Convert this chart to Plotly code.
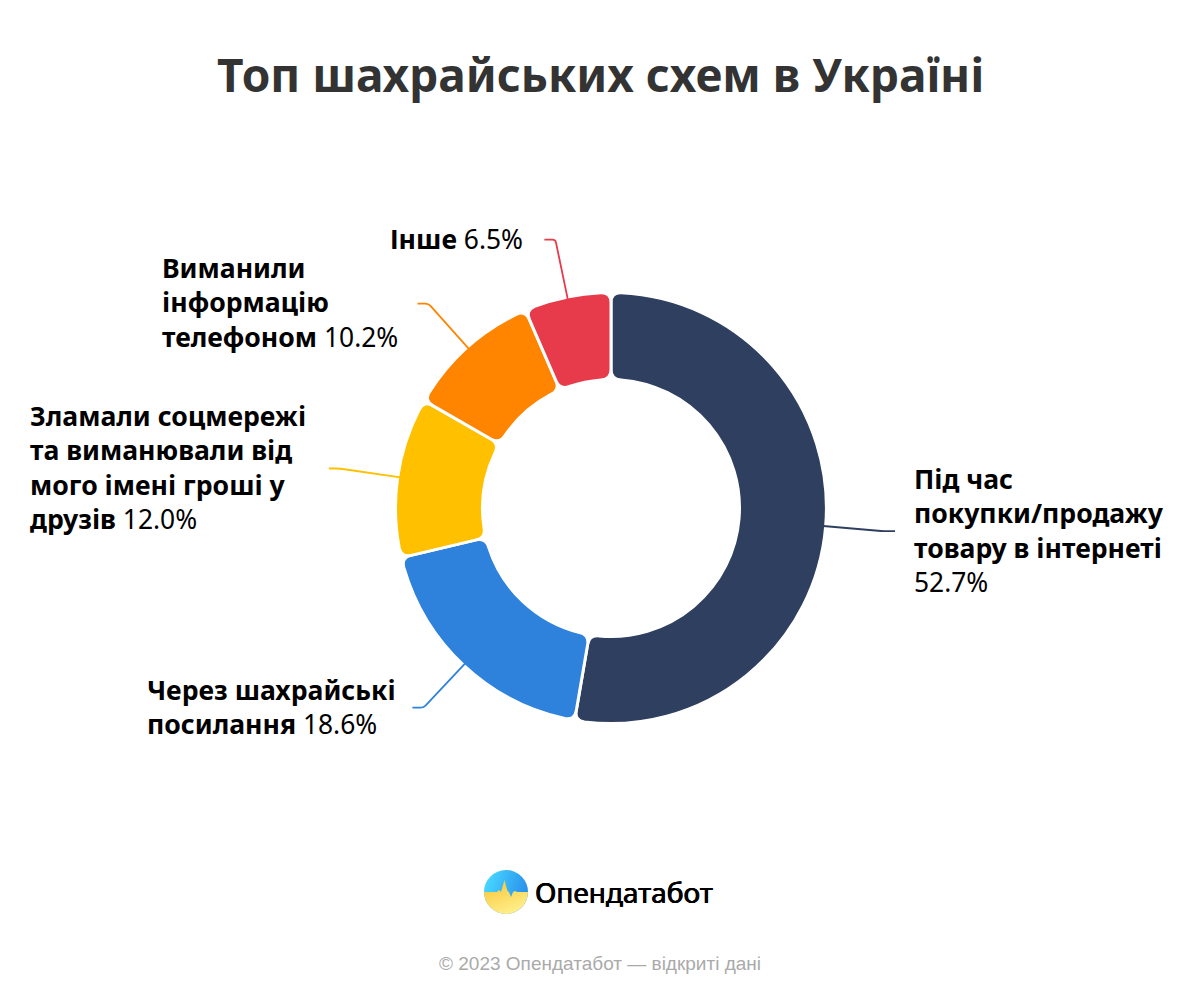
import base64
import numpy as np
import plotly.graph_objects as go

# data
labels = ["Під час<br>покупки/продажу<br>товару в інтернеті",
          "Через шахрайські<br>посилання",
          "Зламали соцмережі<br>та виманювали від<br>мого імені гроші у<br>друзів",
          "Виманили<br>інформацію<br>телефоном",
          "Інше"]
values = [52.7, 18.6, 12.0, 10.2, 6.5]
value_breaks = ["<br>", " ", " ", " ", " "]
colors = ["#2F3F60", "#2E82DC", "#FFC000", "#FF8500", "#E73A4A"]
label_left = [914, 147, 30, 162, 390]

title = "Топ шахрайських схем в Україні"
brand = "Опендатабот"
footer = "© 2023 Опендатабот — відкриті дані"

# donut geometry in page pixels
cx, cy, r_out, r_in = 611, 508, 215.5, 128.5
W, H = 1200, 1000
font = "Noto Sans"

fig = go.Figure()

fig.add_trace(go.Pie(
    values=values,
    sort=False,
    direction="clockwise",
    rotation=0,
    hole=r_in / r_out,
    textinfo="none",
    hoverinfo="skip",
    showlegend=False,
    marker=dict(colors=colors, line=dict(color="white", width=3)),
    domain=dict(x=[(cx - r_out) / W, (cx + r_out) / W],
                y=[1 - (cy + r_out) / H, 1 - (cy - r_out) / H]),
))

# empty trace so the hidden pixel axes exist for labels and leader lines
fig.add_trace(go.Scatter(x=[0, W], y=[0, H], mode="markers", marker=dict(opacity=0),
                         hoverinfo="skip", showlegend=False))

# leader lines: radial run from the slice middle, then a short flat end
mids = (np.cumsum(values) - np.array(values) / 2) / np.sum(values) * 2 * np.pi
for i, a in enumerate(mids):
    x0, y0 = cx + 213 * np.sin(a), cy - 213 * np.cos(a)
    x1, y1 = cx + 274 * np.sin(a), cy - 274 * np.cos(a)
    x2 = x1 + (11 if np.sin(a) > 0 else -11)
    # start of the corner curve, a couple of px before the elbow
    xc, yc = cx + 271 * np.sin(a), cy - 271 * np.cos(a)
    xe = x1 + (3 if np.sin(a) > 0 else -3)
    fig.add_shape(type="path", xref="x", yref="y", layer="above",
                  path=f"M {x0:.1f} {y0:.1f} L {xc:.1f} {yc:.1f} Q {x1:.1f} {y1:.1f} {xe:.1f} {y1:.1f} L {x2:.1f} {y1:.1f}",
                  line=dict(color=colors[i], width=1.8))
    bold = f'<span style="font-size:26.6px"><b>{labels[i].replace("<br>", "</b></span><br><span style=\"font-size:26.6px\"><b>")}</b></span>'
    fig.add_annotation(x=label_left[i] - 2, y=y1 - 1, xanchor="left", yanchor="middle", align="left",
                       showarrow=False,
                       text=f"{bold}{value_breaks[i]}{values[i]:.1f}%",
                       font=dict(family=font, size=26.4, color="#000000"))

fig.add_annotation(x=600, y=74, text=f"<b>{title}</b>", showarrow=False,
                   font=dict(family=font, size=46, color="#333333"))
fig.add_annotation(x=533, y=892, xanchor="left", text=brand, showarrow=False,
                   font=dict(family=font, size=28, color="#000000",
                             shadow="0.4px 0 0 #000, -0.4px 0 0 #000"))
fig.add_annotation(x=600, y=963, text=footer, showarrow=False,
                   font=dict(family="Liberation Sans", size=19, color="#AAAAAA"))

logo = """<svg xmlns="http://www.w3.org/2000/svg" viewBox="0 0 88 88">
<defs>
<linearGradient id="b" x1="0" y1="0" x2="1" y2="0.3"><stop offset="0.15" stop-color="#46D4FF"/><stop offset="1" stop-color="#2A92EC"/></linearGradient>
<linearGradient id="y" x1="0" y1="0" x2="0.5" y2="1"><stop offset="0" stop-color="#F6C233"/><stop offset="1" stop-color="#FFEE88"/></linearGradient>
<clipPath id="c"><circle cx="44" cy="44" r="44"/></clipPath>
</defs>
<g clip-path="url(#c)">
<rect width="88" height="88" fill="url(#b)"/>
<path d="M0 44 L26 44 L30 40 L34 44 L38 30 L41 20 L44 32 L47 42 L50 44 L54 54 L58 44 L62 42 L66 44 L88 44 L88 88 L0 88 Z" fill="url(#y)"/>
</g></svg>"""
logo_src = "data:image/svg+xml;base64," + base64.b64encode(logo.encode()).decode()
fig.add_layout_image(source=logo_src, xref="x", yref="y", x=484, y=870, sizex=44, sizey=44,
                     xanchor="left", yanchor="top", layer="above")

fig.update_layout(
    width=W, height=H,
    margin=dict(l=0, r=0, t=0, b=0),
    paper_bgcolor="white", plot_bgcolor="rgba(0,0,0,0)",
    xaxis=dict(range=[0, W], visible=False, fixedrange=True, domain=[0, 1]),
    yaxis=dict(range=[H, 0], visible=False, fixedrange=True, domain=[0, 1]),
)

# pie has no corner radius option, so round the slice paths plotly computed
round_js = """
document.body.style.margin = '0';
var gd = document.getElementById('{plot_id}');
function roundSlices() {
  var cd = gd.calcdata[0], c = 10;
  var paths = gd.querySelectorAll('.slice path.surface');
  var R = cd[0].r, r = R * gd.data[0].hole, X = cd[0].cx, Y = cd[0].cy;
  function P(rad, a) { return (X + rad * Math.sin(a)).toFixed(2) + ' ' + (Y - rad * Math.cos(a)).toFixed(2); }
  paths.forEach(function (p, i) {
    var a0 = Math.min(cd[i].startangle, cd[i].stopangle), a1 = Math.max(cd[i].startangle, cd[i].stopangle);
    var big = a1 - a0 > Math.PI ? 1 : 0;
    p.setAttribute('d',
      'M' + P(R - c, a0) + 'Q' + P(R, a0) + ' ' + P(R, a0 + c / R) +
      'A' + R + ' ' + R + ' 0 ' + big + ' 1 ' + P(R, a1 - c / R) +
      'Q' + P(R, a1) + ' ' + P(R - c, a1) +
      'L' + P(r + c, a1) + 'Q' + P(r, a1) + ' ' + P(r, a1 - c / r) +
      'A' + r + ' ' + r + ' 0 ' + big + ' 0 ' + P(r, a0 + c / r) +
      'Q' + P(r, a0) + ' ' + P(r + c, a0) + 'Z');
  });
}
roundSlices();
gd.on('plotly_afterplot', roundSlices);
"""

fig.write_html("out.html", config=dict(displayModeBar=False), post_script=round_js)
